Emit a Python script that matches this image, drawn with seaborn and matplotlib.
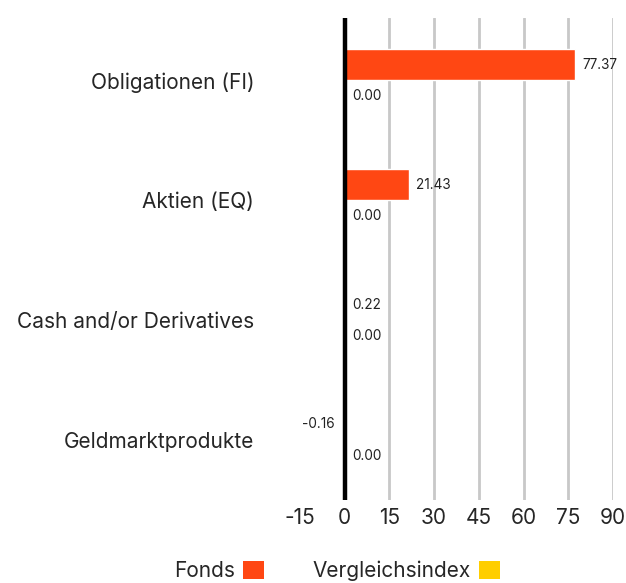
import matplotlib
matplotlib.use("Agg")
import matplotlib.pyplot as plt
import seaborn as sns
import pandas as pd
from matplotlib.patches import Patch

categories = ["Obligationen (FI)", "Aktien (EQ)", "Cash and/or Derivatives", "Geldmarktprodukte"]
fonds = [77.37, 21.43, 0.22, -0.16]
benchmark = [0.00, 0.00, 0.00, 0.00]
series = ["Fonds", "Vergleichsindex"]
colors = ["#FF4713", "#FFCE00"]
xticks = [-15, 0, 15, 30, 45, 60, 75, 90]

df = pd.DataFrame({
    "cat": categories * 2,
    "val": fonds + benchmark,
    "series": [series[0]] * 4 + [series[1]] * 4,
})

sns.set_theme(style="white")
plt.rcParams["font.family"] = ["Inter", "DejaVu Sans"]

fig = plt.figure(figsize=(6.26, 5.83), dpi=100)
ax = fig.add_axes([300 / 626, 1 - 500 / 583, (613 - 300) / 626, (500 - 18) / 583])

sns.barplot(data=df, y="cat", x="val", hue="series", palette=colors, orient="h",
            width=0.52, ax=ax, legend=False, saturation=1, errorbar=None)

ax.set_xlim(-15, 90)
ax.set_ylim(3.5, -0.52)
ax.set_xticks(xticks)
ax.set_xticklabels([str(t) for t in xticks], fontsize=15)
ax.set_xlabel("")
ax.set_ylabel("")
ax.tick_params(axis="x", length=0, pad=6)
ax.tick_params(axis="y", length=0, pad=33, labelsize=15)
for s in ax.spines.values():
    s.set_visible(False)
ax.grid(False)
for t in xticks:
    if t not in (-15, 0):
        ax.axvline(t, color="#c8c8c8", lw=2, zorder=0)
ax.axvline(0, color="black", lw=3.2, zorder=5)

for cont in ax.containers:
    for bar in cont:
        v = bar.get_width()
        y = bar.get_y() + bar.get_height() / 2
        if v < 0:
            ax.text(-3.3, y, f"{v:.2f}", ha="right", va="center", fontsize=9.8, color="#222222")
        else:
            ax.text(v + 2.4, y, f"{v:.2f}", ha="left", va="center", fontsize=9.8, color="#222222")

handles = [Patch(facecolor=c, edgecolor="none") for c in colors]
fig.legend(handles, series, loc="center", bbox_to_anchor=(337 / 626, 1 - 571 / 583), ncol=2,
           markerfirst=False, frameon=False, fontsize=15, handlelength=1.0, handleheight=1.0,
           columnspacing=2.35, handletextpad=0.4)

fig.savefig("out.png", dpi=100)
